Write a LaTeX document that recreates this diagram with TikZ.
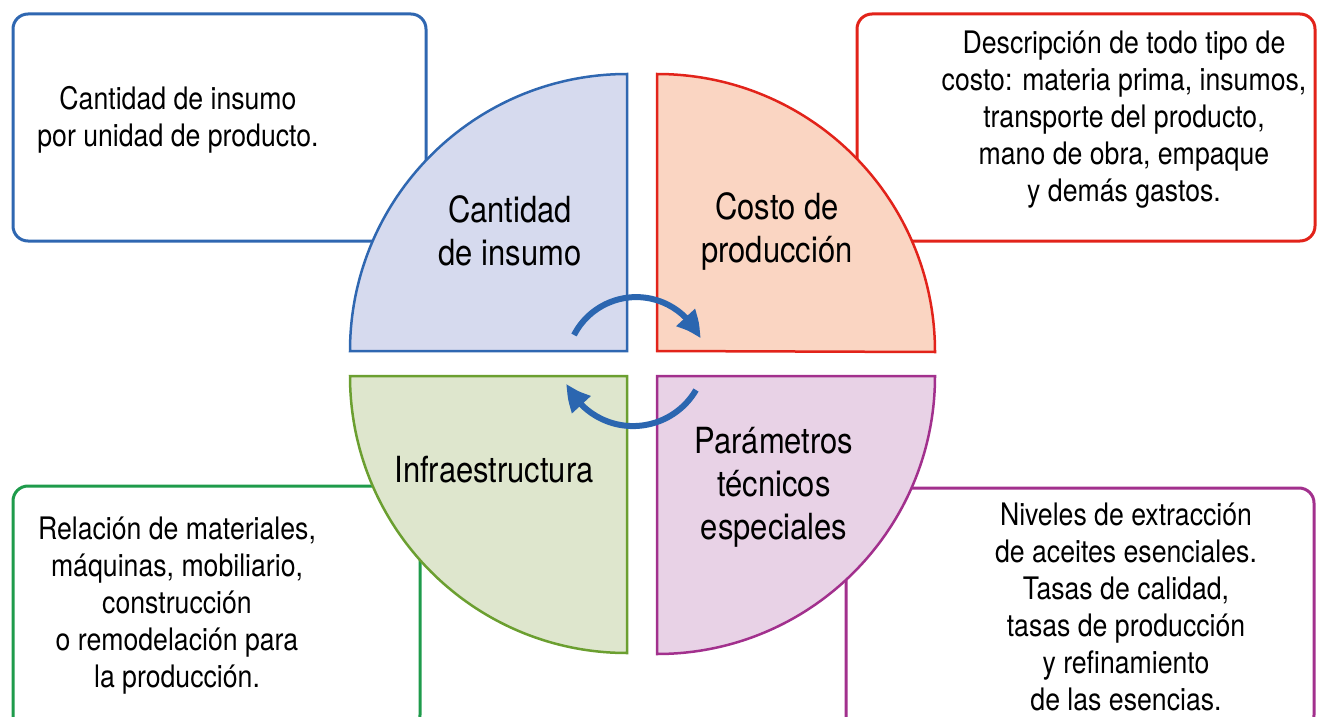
\documentclass[tikz,border=0pt]{standalone}
\usepackage{fontspec}
\setmainfont{TeX Gyre Heros}[FakeStretch=0.86]
\usetikzlibrary{arrows.meta,bending}
\definecolor{cblue}{HTML}{2F67B1}
\definecolor{cred}{HTML}{E2231A}
\definecolor{cgreen}{HTML}{1E9B4B}
\definecolor{colive}{HTML}{6B9F30}
\definecolor{cpurple}{HTML}{A2308D}
\definecolor{fblue}{HTML}{D6DAEE}
\definecolor{fred}{HTML}{FAD5C2}
\definecolor{fgreen}{HTML}{DEE6CD}
\definecolor{fpurple}{HTML}{E8D2E6}
\definecolor{carrow}{HTML}{2B66B0}
\begin{document}
\begin{tikzpicture}[x=1pt,y=-1pt,
  infobox/.style={line width=3pt,rounded corners=15pt,fill=white},
  quarter/.style={line width=2.5pt},
  boxtext/.style={align=center,font=\fontsize{31}{37}\selectfont,inner sep=0pt},
  qtext/.style={align=center,font=\fontsize{36}{43}\selectfont,inner sep=0pt},
  cyc/.style={draw=carrow,line width=6pt,-{Triangle[length=26pt,width=24pt,bend]}}]
\useasboundingbox (0,0) rectangle (1317,717);
% outer boxes
\draw[infobox,draw=cblue] (13,14) rectangle (426,241);
\draw[infobox,draw=cred] (857,14) rectangle (1315,241);
\draw[infobox,draw=cgreen] (13,486) rectangle (420,730);
\draw[infobox,draw=cpurple] (846,488) rectangle (1314,730);
% quarter discs
\draw[quarter,draw=cblue,fill=fblue] (627,351) -- (350,351) arc[start angle=180,end angle=270,radius=277] -- cycle;
\draw[quarter,draw=cred,fill=fred] (657,351) -- (657,74) arc[start angle=270,end angle=360,radius=278] -- cycle;
\draw[quarter,draw=colive,fill=fgreen] (627,376) -- (627,653) arc[start angle=90,end angle=180,radius=277] -- cycle;
\draw[quarter,draw=cpurple,fill=fpurple] (657,376) -- (935,376) arc[start angle=0,end angle=90,radius=278] -- cycle;
% cycle arrows
\coordinate (a1) at (574,335);
\coordinate (a2) at (696,390);
\draw[cyc] (a1) arc[start angle=207.3,end angle=336,radius=70];
\draw[cyc] (a2) arc[start angle=30.4,end angle=155.3,radius=73];
% quarter labels
\node[qtext] (q1) at (510,231) {Cantidad\\de insumo};
\node[qtext] (q2) at (777,231) {Costo de\\producción};
\node[qtext] (q3) at (494,470) {Infraestructura};
\node[qtext] (q4) at (774,487) {Parámetros\\técnicos\\especiales};
% box texts
\node[boxtext] (t1) at (178,120) {Cantidad de insumo\\por unidad de producto.};
\node[boxtext] (t2) at (1124,120) {Descripción de todo tipo de\\costo: materia prima, insumos,\\transporte del producto,\\mano de obra, empaque\\y demás gastos.};
\node[boxtext] (t3) at (177,606) {Relación de materiales,\\máquinas, mobiliario,\\construcción\\o remodelación para\\la producción.};
\node[boxtext] (t4) at (1126,607) {Niveles de extracción\\de aceites esenciales.\\Tasas de calidad,\\tasas de producción\\y refinamiento\\de las esencias.};
\end{tikzpicture}
\end{document}
